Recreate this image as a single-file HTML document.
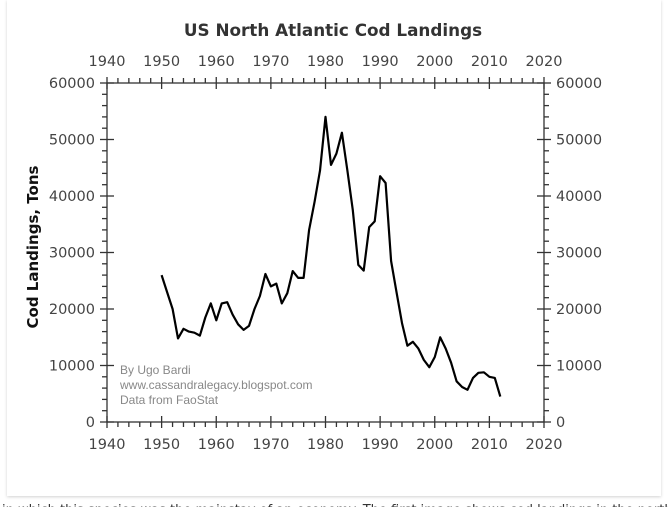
<!DOCTYPE html>
<html><head><style>
html,body{margin:0;padding:0;background:#fff;width:668px;height:507px;overflow:hidden}
.card{position:absolute;left:7px;top:0;width:654px;height:496px;background:#fff;box-shadow:0 1px 3px rgba(0,0,0,0.18)}
</style></head><body>
<div class="card"></div>
<svg width="668" height="507" style="position:absolute;left:0;top:0" font-family="'DejaVu Sans','Liberation Sans',sans-serif">
<text x="333" y="36" text-anchor="middle" font-size="16.8" font-weight="bold" fill="#333">US North Atlantic Cod Landings</text>
<text transform="translate(38,247) rotate(-90)" text-anchor="middle" font-size="15" font-weight="bold" fill="#111">Cod Landings, Tons</text>
<g id="ax" stroke="#333" stroke-width="1.3" fill="none"></g>
<g id="lab" font-size="14.5" fill="#444"></g>
<g font-family="'Liberation Sans',Arial,sans-serif" font-size="12" fill="#888">
<text x="120" y="374">By Ugo Bardi</text>
<text x="120" y="389">www.cassandralegacy.blogspot.com</text>
<text x="120" y="404">Data from FaoStat</text>
</g>
<polyline id="ln" fill="none" stroke="#000" stroke-width="2.2" stroke-linejoin="round"/>
<text x="2" y="514" font-size="13" fill="#333">in which this species was the mainstay of an economy. The first image shows cod landings in the north...</text>
</svg>
<script>
const X0=107,X1=544,Y0=422,Y1=83;
const xs=y=>X0+(y-1940)*(X1-X0)/80, ys=v=>Y0-v*(Y0-Y1)/60000;
let ax='',lab='';
ax+=`<rect x="${X0}" y="${Y1}" width="${X1-X0}" height="${Y0-Y1}"/>`;
for(let y=1940;y<=2020;y+=2){const x=xs(y);const maj=y%10==0;
 if(maj){ax+=`<line x1="${x}" y1="${Y0-6}" x2="${x}" y2="${Y0+6}"/><line x1="${x}" y1="${Y1-6}" x2="${x}" y2="${Y1+6}"/>`;
 lab+=`<text x="${x}" y="${Y0+27}" text-anchor="middle">${y}</text><text x="${x}" y="${Y1-17}" text-anchor="middle">${y}</text>`;}
 else ax+=`<line x1="${x}" y1="${Y0}" x2="${x}" y2="${Y0+5}"/><line x1="${x}" y1="${Y1}" x2="${x}" y2="${Y1-5}"/>`;}
for(let v=0;v<=60000;v+=2000){const y=ys(v);const maj=v%10000==0;
 if(maj){ax+=`<line x1="${X0-7}" y1="${y}" x2="${X0+7}" y2="${y}"/><line x1="${X1-7}" y1="${y}" x2="${X1+7}" y2="${y}"/>`;
 lab+=`<text x="${X0-12}" y="${y+5}" text-anchor="end">${v}</text><text x="${X1+12}" y="${y+5}">${v}</text>`;}
 else ax+=`<line x1="${X0-5}" y1="${y}" x2="${X0}" y2="${y}"/><line x1="${X1}" y1="${y}" x2="${X1+5}" y2="${y}"/>`;}
document.getElementById('ax').innerHTML=ax;document.getElementById('lab').innerHTML=lab;
const d=[26000,23000,20000,14800,16500,16000,15800,15300,18500,21000,18000,21000,21200,19000,17300,16300,17000,20000,22300,26200,24000,24500,21000,22800,26700,25500,25500,34000,39000,44500,54000,45500,47500,51200,44500,37500,27800,26800,34500,35500,43500,42300,28500,23000,17500,13500,14200,13000,11000,9700,11500,15000,13000,10500,7200,6200,5700,7800,8700,8800,8000,7800,4500];
document.getElementById('ln').setAttribute('points',d.map((v,i)=>xs(1950+i).toFixed(1)+','+ys(v).toFixed(1)).join(' '));
</script>
</body></html>
